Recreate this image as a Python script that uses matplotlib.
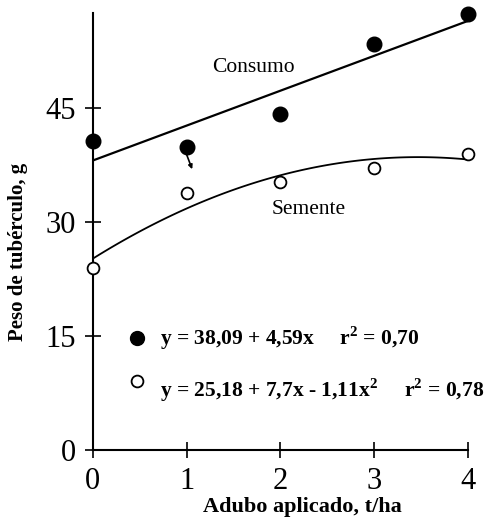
import numpy as np
import matplotlib
matplotlib.use('Agg')
import matplotlib.pyplot as plt

# ============================================================
# 数据
# ============================================================
adubo = [0, 1, 2, 3, 4]
consumo = [40.6, 39.9, 44.2, 53.4, 57.3]
semente = [24.0, 33.8, 35.2, 37.1, 39.0]

# 回归系数
coef_consumo = [38.09, 4.59]
coef_semente = [25.18, 7.7, -1.11]

eq_consumo = "y = 38,09 + 4,59x     r$^\\mathbf{2}$ = 0,70"
eq_semente = "y = 25,18 + 7,7x - 1,11x$^\\mathbf{2}$     r$^\\mathbf{2}$ = 0,78"

plt.rcParams['font.family'] = ['Liberation Serif', 'DejaVu Serif']
plt.rcParams['mathtext.fontset'] = 'custom'
plt.rcParams['mathtext.rm'] = 'Liberation Serif'
plt.rcParams['mathtext.bf'] = 'Liberation Serif:bold'

fig = plt.figure(figsize=(4.94, 5.19), dpi=100)
ax = fig.add_axes([0.188, 0.133, 0.759, 0.842])

xx = np.linspace(0, 4, 100)
ax.plot(xx, coef_consumo[0] + coef_consumo[1] * xx, color='black', lw=1.6)
ax.plot(xx, coef_semente[0] + coef_semente[1] * xx + coef_semente[2] * xx ** 2,
        color='black', lw=1.3)

ax.plot(adubo, consumo, 'o', color='black', ms=10.5, clip_on=False, zorder=5)
ax.plot(adubo, semente, 'o', mfc='white', mec='black', mew=1.3, ms=8.5,
        clip_on=False, zorder=5)

# 小箭头
ax.annotate('', xy=(1.07, 36.6), xytext=(0.99, 39.2),
            arrowprops=dict(arrowstyle='-|>', color='black', lw=1.2,
                            mutation_scale=6))

ax.text(1.27, 50.3, 'Consumo', fontsize=15.5, ha='left', va='center')
ax.text(1.91, 31.6, 'Semente', fontsize=15.5, ha='left', va='center')

# 图例
ax.plot([0.47], [14.7], 'o', color='black', ms=10)
ax.plot([0.47], [9.1], 'o', mfc='white', mec='black', mew=1.3, ms=8.5)
ax.text(0.715, 14.7, eq_consumo, fontsize=15.5, ha='left', va='center',
        fontweight='bold')
ax.text(0.715, 7.9, eq_semente, fontsize=15.5, ha='left', va='center',
        fontweight='bold')

ax.set_xlim(0, 4)
ax.set_ylim(0, 57.5)
ax.set_xticks(adubo)
ax.set_yticks([0, 15, 30, 45])
ax.tick_params(direction='inout', length=12, width=1.2, labelsize=22, pad=6)
for s in ['top', 'right']:
    ax.spines[s].set_visible(False)
for s in ['left', 'bottom']:
    ax.spines[s].set_linewidth(1.5)

ax.set_xlabel('Adubo aplicado, t/ha', fontsize=16, fontweight='bold')
ax.set_ylabel('Peso de tubérculo, g', fontsize=15, fontweight='bold')
ax.xaxis.set_label_coords(0.56, -0.107)
ax.yaxis.set_label_coords(-0.172, 0.453)

fig.savefig('out.png', dpi=100)
